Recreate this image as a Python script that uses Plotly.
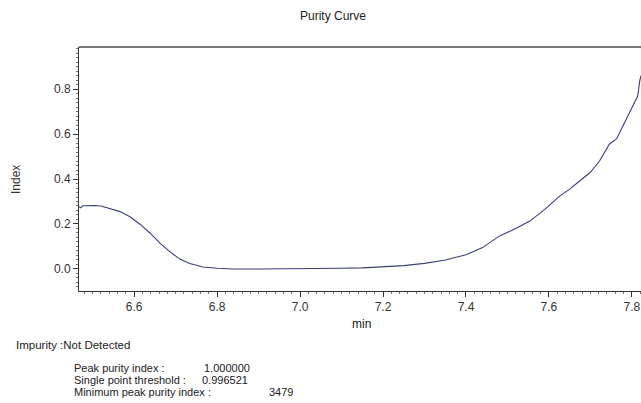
import plotly.graph_objects as go

# Purity curve data (min vs index)
time_min = [6.467, 6.471, 6.476, 6.49, 6.505, 6.52, 6.542, 6.566, 6.59, 6.614, 6.638,
            6.662, 6.686, 6.71, 6.734, 6.766, 6.80, 6.838, 6.90, 7.00, 7.10, 7.15,
            7.20, 7.25, 7.30, 7.35, 7.40, 7.44, 7.481, 7.52, 7.554, 7.59, 7.626,
            7.65, 7.674, 7.70, 7.722, 7.735, 7.746, 7.763, 7.782, 7.801, 7.814, 7.819, 7.822]
index_vals = [0.277, 0.272, 0.281, 0.283, 0.282, 0.280, 0.267, 0.255, 0.232, 0.199, 0.16,
              0.115, 0.077, 0.044, 0.024, 0.009, 0.003, 0.0, 0.0, 0.0, 0.003, 0.005,
              0.009, 0.015, 0.025, 0.04, 0.063, 0.095, 0.147, 0.18, 0.213, 0.265, 0.324,
              0.355, 0.391, 0.43, 0.48, 0.52, 0.556, 0.578, 0.649, 0.716, 0.769, 0.836, 0.86]

x_ticks = [6.6, 6.8, 7.0, 7.2, 7.4, 7.6, 7.8]
y_ticks = [0.0, 0.2, 0.4, 0.6, 0.8]

title_text = "Purity Curve"
x_title = "min"
y_title = "Index"
impurity_text = "Impurity :Not Detected"
info_labels = ["Peak purity index :", "Single point threshold :", "Minimum peak purity index :"]
info_values = ["1.000000", "0.996521", "3479"]

W, H = 641, 403
L, R, T, B = 79, 641, 47, 291  # plot area in pixels

def px(x):
    return (x - L) / (R - L)

def py(y):
    return (B - y) / (B - T)

FONT = "Liberation Sans, Arial, sans-serif"

fig = go.Figure()
fig.add_trace(go.Scatter(x=time_min, y=index_vals, mode="lines",
                         line=dict(color="#3a3f78", width=1.1), showlegend=False,
                         hoverinfo="skip", cliponaxis=True))

fig.update_layout(
    width=W, height=H,
    margin=dict(l=L, r=W - R, t=T, b=H - B, pad=0, autoexpand=False),
    paper_bgcolor="white", plot_bgcolor="white",
    font=dict(family=FONT, size=12, color="#222"),
    showlegend=False,
)

fig.update_xaxes(range=[6.467, 7.822], tickvals=x_ticks,
                 ticktext=[f"{v:.1f}" for v in x_ticks],
                 showgrid=False, zeroline=False, automargin=False,
                 showline=True, linecolor="#333", linewidth=1, mirror=False,
                 ticks="outside", ticklen=5, tickcolor="#333",
                 tickfont=dict(family=FONT, size=12, color="#333"),
                 minor=dict(dtick=0.02, tick0=6.6, ticks="outside", ticklen=2, tickcolor="#777", showgrid=False))
fig.update_yaxes(range=[-0.098, 0.987], tickvals=y_ticks,
                 ticktext=[f"{v:.1f}" for v in y_ticks],
                 showgrid=False, zeroline=False, automargin=False,
                 showline=True, linecolor="#333", linewidth=1,
                 ticks="outside", ticklen=5, tickcolor="#333",
                 tickfont=dict(family=FONT, size=12, color="#333"),
                 minor=dict(dtick=0.02, tick0=0, ticks="outside", ticklen=2, tickcolor="#777", showgrid=False))

# top border (gray)
fig.add_shape(type="line", xref="paper", yref="paper", x0=0, x1=1, y0=1, y1=1,
              line=dict(color="#777", width=2))

annots = [
    dict(text=title_text, x=px(333), y=py(16), size=12, anchor="center"),
    dict(text=x_title, x=px(361), y=py(324), size=12, anchor="center"),
    dict(text=impurity_text, x=px(14), y=py(345), size=11.5, anchor="left"),
]
rows_y = [368, 380, 392]
label_x = 72
value_x = [202, 200, 267]
for i in range(3):
    annots.append(dict(text=info_labels[i], x=px(label_x), y=py(rows_y[i]), size=11, anchor="left"))
    annots.append(dict(text=info_values[i], x=px(value_x[i]), y=py(rows_y[i]), size=11, anchor="left"))

for a in annots:
    fig.add_annotation(text=a["text"], x=a["x"], y=a["y"], xref="paper", yref="paper",
                       xanchor=a["anchor"], yanchor="middle", showarrow=False,
                       font=dict(family=FONT, size=a["size"], color="#222"))

# y-axis title (rotated)
fig.add_annotation(text=y_title, x=px(16), y=py(180), xref="paper", yref="paper",
                   xanchor="center", yanchor="middle", showarrow=False, textangle=-90,
                   font=dict(family=FONT, size=12, color="#333"))

fig.write_html("out.html", post_script="document.body.style.margin='0';",
               config={"displayModeBar": False, "staticPlot": True})
